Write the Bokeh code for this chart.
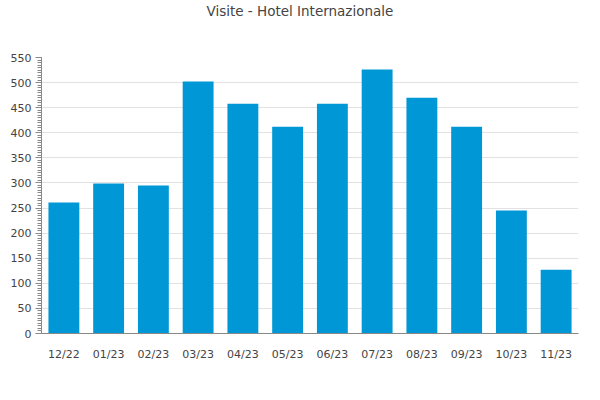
from bokeh.plotting import figure
from bokeh.models import FixedTicker, Range1d, FactorRange, Title
from bokeh.embed import file_html
from bokeh.resources import INLINE

months = ["12/22", "01/23", "02/23", "03/23", "04/23", "05/23",
          "06/23", "07/23", "08/23", "09/23", "10/23", "11/23"]
visits = [261, 299, 295, 502, 458, 412, 458, 526, 470, 412, 245, 127]
y_ticks = list(range(0, 551, 50))
y_minor = list(range(0, 551, 5))
title_text = "Visite - Hotel Internazionale"

p = figure(width=584, height=384, x_range=FactorRange(*months, range_padding=0),
           y_range=Range1d(0, 550), output_backend="svg", toolbar_location=None,
           min_border_left=41, min_border_right=6, min_border_bottom=51, min_border_top=0)

p.vbar(x=months, top=visits, width=0.69, color="#0097d6", line_color=None)

spacer = Title(text=" ", text_font_size="33.5px", standoff=0)
p.add_layout(spacer, "above")
main_title = Title(text=title_text, align="left", offset=165, standoff=0,
                   text_font="DejaVu Sans", text_font_size="13.5px",
                   text_font_style="normal", text_color="#444444")
p.add_layout(main_title, "above")

p.outline_line_color = None
p.xgrid.grid_line_color = None
p.ygrid.grid_line_color = "#e2e2e2"
p.ygrid.ticker = FixedTicker(ticks=y_ticks)

p.yaxis.ticker = FixedTicker(ticks=y_ticks, minor_ticks=y_minor)
p.yaxis.axis_line_color = "#888888"
p.yaxis.major_tick_line_color = "#888888"
p.yaxis.minor_tick_line_color = "#888888"
p.yaxis.major_tick_out = 6
p.yaxis.major_tick_in = 0
p.yaxis.minor_tick_out = 4
p.yaxis.minor_tick_in = 0
p.yaxis.major_label_standoff = 4

p.xaxis.axis_line_color = "#888888"
p.xaxis.major_tick_line_color = None
p.xaxis.minor_tick_line_color = None
p.xaxis.major_label_standoff = 8

for ax in (p.xaxis, p.yaxis):
    ax.major_label_text_font = "DejaVu Sans"
    ax.major_label_text_font_size = "11px"
    ax.major_label_text_color = "#444444"

open("out.html", "w").write(file_html(p, INLINE))
